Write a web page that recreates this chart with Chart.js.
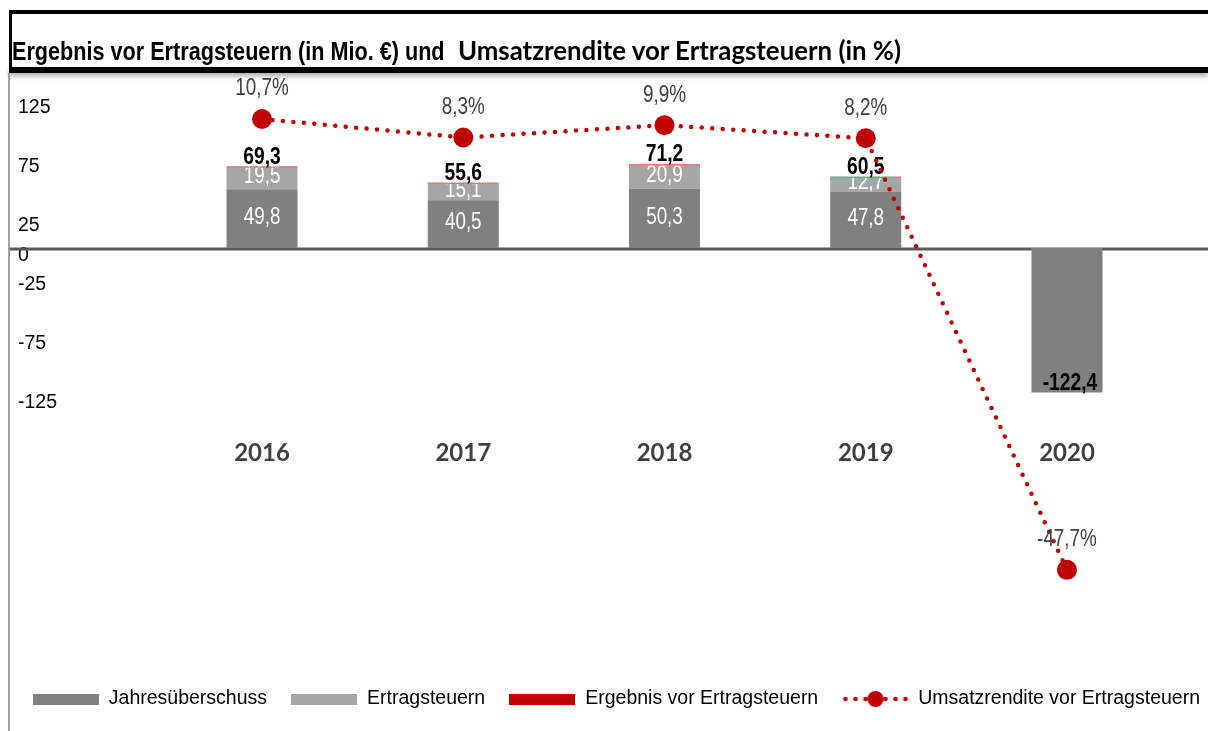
<!DOCTYPE html>
<html lang="de">
<head>
<meta charset="utf-8">
<title>Ergebnis vor Ertragsteuern</title>
<script src="https://cdn.jsdelivr.net/npm/chart.js@4.4.1/dist/chart.umd.min.js"></script>
<style>
    html, body { margin: 0; padding: 0; background: #fff; overflow: hidden; }
    #wrap { position: relative; width: 1208px; height: 731px; }
    #chart { position: absolute; left: 0; top: 0; }
    .rule-top { position: absolute; left: 9px; top: 10px; width: 1199px; height: 4px; background: #000; }
    .rule-left { position: absolute; left: 9px; top: 10px; width: 3px; height: 62px; background: #000; }
    .rule-bottom { position: absolute; left: 9px; top: 67px; width: 1199px; height: 6px; background: #000;
                   box-shadow: 0 3px 5px rgba(0, 0, 0, 0.35); }
    .frame-left { position: absolute; left: 8px; top: 73px; width: 2px; height: 658px; background: #a0a0a0; }
    #title { position: absolute; left: 12px; top: 37px; line-height: 26px;
             font-weight: bold; white-space: nowrap; color: #000; }
    .part1 { display: inline-block; width: 446px; white-space: nowrap; }
    .part1 span { display: inline-block; transform: scaleX(0.865); transform-origin: 0 50%;
                  font-family: "Liberation Sans", Arial, sans-serif; font-size: 25px; }
    .part2 { font-family: Lato, "Open Sans", sans-serif; font-size: 25.8px; }
</style>
</head>
<body>
<div id="wrap">
    <canvas id="chart" width="1208" height="731"></canvas>
    <div class="rule-top"></div>
    <div class="rule-left"></div>
    <div class="rule-bottom"></div>
    <div class="frame-left"></div>
    <div id="title"><span class="part1"><span>Ergebnis vor Ertragsteuern (in Mio. €) und</span></span><span class="part2">Umsatzrendite vor Ertragsteuern (in %)</span></div>
</div>
<script>
// Data (Mio. € / %)
const years = ["2016", "2017", "2018", "2019", "2020"];
const jahresueberschuss = [49.8, 40.5, 50.3, 47.8, -122.4];
const ertragsteuern = [19.5, 15.1, 20.9, 12.7, null];
const ergebnis_vor_steuern = [69.3, 55.6, 71.2, 60.5, -122.4];
const umsatzrendite = [10.7, 8.3, 9.9, 8.2, -47.7];
const y_ticks = [125, 75, 25, 0, -25, -75, -125];

const dark_grey = "#808080";
const light_grey = "#a6a6a6";
const red = "#c00000";
const sans = '"Liberation Sans", Arial, sans-serif';

const fmt = (v) => v.toFixed(1).replace(".", ",");

// no narrow font installed, so squeeze the normal one sideways
function narrowText(ctx, text, x, y, font, colour) {
    ctx.save();
    ctx.font = font;
    ctx.fillStyle = colour;
    ctx.textAlign = "center";
    ctx.textBaseline = "middle";
    ctx.translate(x, y);
    ctx.scale(0.82, 1);
    ctx.fillText(text, 0, 0);
    ctx.restore();
}

// legend marks drawn as small images
function legendRect(colour) {
    const c = document.createElement("canvas");
    c.width = 66;
    c.height = 11;
    const g = c.getContext("2d");
    g.fillStyle = colour;
    g.fillRect(0, 0, 66, 11);
    return c;
}

function legendLine() {
    const c = document.createElement("canvas");
    c.width = 66;
    c.height = 18;
    const g = c.getContext("2d");
    g.fillStyle = red;
    [3, 13, 23, 43, 53, 63].forEach((x) => {
        g.beginPath();
        g.arc(x, 9, 2.3, 0, Math.PI * 2);
        g.fill();
    });
    g.beginPath();
    g.arc(33, 9, 8, 0, Math.PI * 2);
    g.fill();
    return c;
}

const legend_marks = [legendRect(dark_grey), legendRect(light_grey), legendRect(red), legendLine()];

// zero line runs across the whole width, also under the axis labels
const zero_line = {
    id: "zeroLine",
    beforeDatasetsDraw(chart) {
        const y = chart.scales.y.getPixelForValue(0);
        const ctx = chart.ctx;
        ctx.save();
        ctx.strokeStyle = "#595959";
        ctx.lineWidth = 3;
        ctx.beginPath();
        ctx.moveTo(10, y + 1);
        ctx.lineTo(chart.width, y + 1);
        ctx.stroke();
        ctx.restore();
    }
};

// value labels, drawn right after each dataset so the dotted line stays on top
const value_labels = {
    id: "valueLabels",
    afterDatasetDraw(chart, args) {
        const ds = chart.data.datasets[args.index];
        const ctx = chart.ctx;
        args.meta.data.forEach((el, j) => {
            const v = ds.data[j];
            if (v === null) return;
            if (ds.labelStyle === "inside") {
                if (v <= 0) return;
                narrowText(ctx, fmt(v), el.x, (el.y + el.base) / 2 - 1, "23px " + sans, "#fff");
            } else if (ds.labelStyle === "total") {
                narrowText(ctx, fmt(v), v >= 0 ? el.x : el.x + 3, el.y - 9, "bold 23.5px " + sans, "#000");
            } else if (ds.labelStyle === "percent") {
                narrowText(ctx, fmt(v) + "%", el.x, el.y - 30, "23px " + sans, "#404040");
            }
        });
    }
};

const bar_data = {
    labels: years,
    datasets: [{
        label: "Jahresüberschuss",
        data: jahresueberschuss,
        backgroundColor: dark_grey,
        stack: "bars",
        order: 2,
        labelStyle: "inside"
    },
    {
        label: "Ertragsteuern",
        data: ertragsteuern,
        backgroundColor: light_grey,
        stack: "bars",
        order: 2,
        labelStyle: "inside"
    },
    {
        label: "Ergebnis vor Ertragsteuern",
        data: ergebnis_vor_steuern,
        backgroundColor: "rgba(0,0,0,0)",
        borderColor: "#e87878",
        borderWidth: {top: 1.5, right: 0, bottom: 0, left: 0},
        borderSkipped: "start",
        stack: "total",
        grouped: false,
        order: 1,
        labelStyle: "total"
    },
    {
        type: "line",
        label: "Umsatzrendite vor Ertragsteuern",
        data: umsatzrendite,
        yAxisID: "y1",
        borderColor: red,
        backgroundColor: red,
        borderWidth: 4.5,
        borderDash: [0, 10.5],
        borderCapStyle: "round",
        pointRadius: 10,
        pointBorderWidth: 0,
        pointBackgroundColor: red,
        fill: false,
        tension: 0,
        order: 0,
        labelStyle: "percent"
    }]
};

const config = {
    type: "bar",
    data: bar_data,
    options: {
        responsive: false,
        animation: false,
        events: [],
        layout: {
            padding: {top: 80, left: 18, right: 0, bottom: 12.25}
        },
        datasets: {
            bar: {
                categoryPercentage: 0.353,
                barPercentage: 1
            }
        },
        plugins: {
            tooltip: {enabled: false},
            legend: {
                position: "bottom",
                align: "end",
                labels: {
                    usePointStyle: true,
                    pointStyleWidth: 66,
                    padding: 8,
                    color: "#000",
                    font: {family: sans, size: 19.5},
                    // trailing blanks give the wide gaps between entries
                    generateLabels: (chart) => chart.data.datasets.map((ds, i, all) => ({
                        text: i < all.length - 1 ? ds.label + "   " : ds.label,
                        pointStyle: legend_marks[i],
                        fillStyle: "transparent",
                        strokeStyle: "transparent",
                        lineWidth: 0,
                        hidden: false,
                        datasetIndex: i
                    }))
                }
            }
        },
        scales: {
            x: {
                stacked: true,
                position: {y: -162},
                grid: {display: false, drawTicks: false},
                border: {display: false},
                ticks: {
                    padding: 0,
                    color: "#404040",
                    font: {family: "Lato", size: 24, weight: "bold"}
                }
            },
            y: {
                stacked: true,
                min: -367.2,
                max: 142.37,
                afterBuildTicks: (scale) => {
                    scale.ticks = y_ticks.map((v) => ({value: v}));
                },
                afterFit: (scale) => {
                    scale.width = 143.4;
                },
                grid: {display: false, drawTicks: false},
                border: {display: false},
                ticks: {
                    autoSkip: false,
                    crossAlign: "far",
                    labelOffset: 7.5,
                    color: "#000",
                    font: {family: sans, size: 19.5},
                    callback: (v) => String(v)
                }
            },
            y1: {
                position: "right",
                min: -62.13,
                max: 15.75,
                afterFit: (scale) => {
                    scale.width = 40.4;   // empty strip right of the last category
                },
                grid: {display: false, drawTicks: false},
                border: {display: false},
                ticks: {display: false}
            }
        }
    },
    plugins: [zero_line, value_labels]
};

const ctx = document.getElementById("chart").getContext("2d");
new Chart(ctx, config);
</script>
</body>
</html>
